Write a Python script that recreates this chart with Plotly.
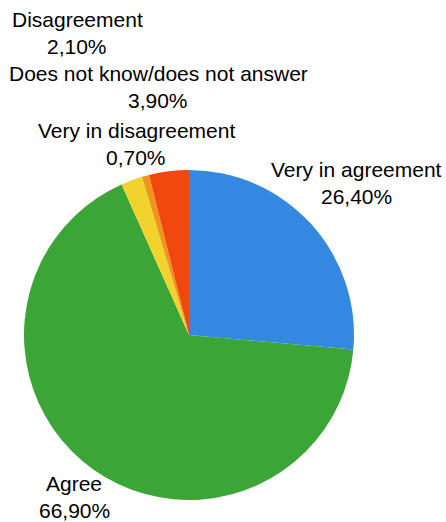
import plotly.graph_objects as go

labels = ["Very in agreement", "Agree", "Disagreement", "Very in disagreement", "Does not know/does not answer"]
values = [26.4, 66.9, 2.1, 0.7, 3.9]
colors = ["#3389e2", "#3ba537", "#f2d22c", "#ee961c", "#f0480f"]

# label anchor positions in pixels (center x, center y of name line)
label_pos = {
    "Very in agreement": (356, 169),
    "Agree": (74, 483),
    "Disagreement": (77, 20),
    "Very in disagreement": (136, 130),
    "Does not know/does not answer": (158, 74),
}

W, H = 446, 522
LINE = 27

fig = go.Figure(go.Pie(
    labels=labels,
    values=values,
    sort=False,
    direction="clockwise",
    rotation=0,
    marker=dict(colors=colors, line=dict(width=0)),
    textinfo="none",
    hoverinfo="label+percent",
    showlegend=False,
    domain=dict(x=[24 / W, 354 / W], y=[1 - 500 / H, 1 - 170 / H]),
))

font = dict(family="Liberation Sans, Arial, sans-serif", size=21, color="#000000")
ann = []
for lab, val in zip(labels, values):
    cx, cy = label_pos[lab]
    pct = f"{val:.2f}".replace(".", ",") + "%"
    for i, t in enumerate([lab, pct]):
        ann.append(dict(
            x=cx / W, y=1 - (cy + i * LINE) / H, xref="paper", yref="paper",
            text=t, showarrow=False, xanchor="center", yanchor="middle", font=font,
        ))

fig.update_layout(
    width=W, height=H,
    margin=dict(l=0, r=0, t=0, b=0),
    paper_bgcolor="white", plot_bgcolor="white",
    annotations=ann,
)

fig.write_html(
    "out.html",
    config={"displayModeBar": False},
    post_script="document.body.style.margin='0';document.body.style.overflow='hidden';",
)
